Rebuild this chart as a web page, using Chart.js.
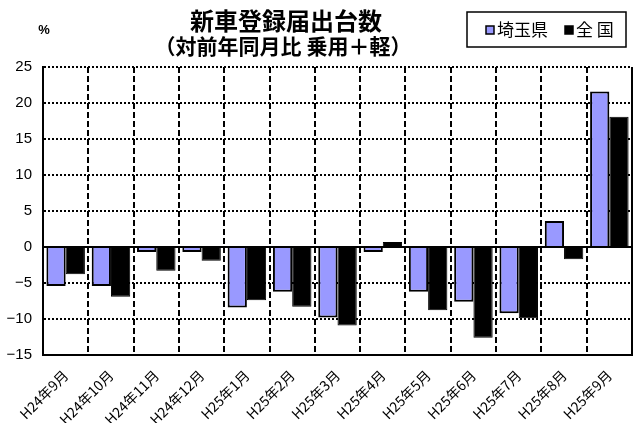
<!DOCTYPE html>
<html>
<head>
<meta charset="utf-8">
<script src="https://cdn.jsdelivr.net/npm/chart.js@4/dist/chart.umd.min.js"></script>
<style>
  html, body { margin: 0; padding: 0; background: #fff; }
  canvas { display: block; }
</style>
</head>
<body>
<canvas id="chart" width="636" height="423"></canvas>
<script>
// 新車登録届出台数 対前年同月比（%）
const months = [
  "H24年9月", "H24年10月", "H24年11月", "H24年12月", "H25年1月", "H25年2月",
  "H25年3月", "H25年4月", "H25年5月", "H25年6月", "H25年7月", "H25年8月", "H25年9月"
];
const saitama = [-5.4, -5.4, -0.7, -0.7, -8.4, -6.2, -9.8, -0.7, -6.2, -7.6, -9.2, 3.6, 21.6];
const zenkoku = [-3.8, -6.9, -3.3, -1.9, -7.4, -8.3, -10.9, 0.7, -8.8, -12.6, -9.9, -1.7, 18.1];

const titleText = "新車登録届出台数";
const subtitleText = "（対前年同月比 乗用＋軽）";
const unitText = "%";

const JP = '"Noto Sans CJK JP", sans-serif';

// title, unit, legend box, zero line and frame
const decorations = {
  id: "decorations",
  afterDatasetsDraw(chart) {
    const { ctx, chartArea: a, scales: { y } } = chart;
    ctx.save();
    ctx.strokeStyle = "#000";
    ctx.lineWidth = 2;
    ctx.setLineDash([]);
    const y0 = Math.round(y.getPixelForValue(0));
    ctx.beginPath();
    ctx.moveTo(a.left, y0);
    ctx.lineTo(a.right, y0);
    ctx.moveTo(a.right, a.top);
    ctx.lineTo(a.right, a.bottom);
    ctx.moveTo(a.left, a.bottom);
    ctx.lineTo(a.right, a.bottom);
    ctx.stroke();
    ctx.restore();
  },
  afterDraw(chart) {
    const { ctx } = chart;
    ctx.save();
    ctx.fillStyle = "#000";
    ctx.textAlign = "center";
    ctx.textBaseline = "middle";
    ctx.font = "bold 24px " + JP;
    ctx.fillText(titleText, 286, 21);
    ctx.font = "bold 21px " + JP;
    ctx.fillText(subtitleText, 283, 46);

    ctx.font = "bold 13px 'Liberation Sans', sans-serif";
    ctx.fillText(unitText, 44, 30);

    // legend
    ctx.strokeStyle = "#000";
    ctx.lineWidth = 1.5;
    ctx.strokeRect(467, 12, 159, 35);
    ctx.textAlign = "left";
    ctx.font = "17px " + JP;
    const ds = chart.data.datasets;
    const xs = [486, 565];
    ds.forEach((d, i) => {
      ctx.fillStyle = d.backgroundColor;
      ctx.fillRect(xs[i], 26, 8, 8);
      ctx.lineWidth = 1.5;
      ctx.strokeRect(xs[i], 26, 8, 8);
      ctx.fillStyle = "#000";
      ctx.fillText(d.label, xs[i] + 11, 30);
    });
    ctx.restore();
  }
};

new Chart(document.getElementById("chart"), {
  type: "bar",
  data: {
    labels: months,
    datasets: [
      {
        label: "埼玉県",
        data: saitama,
        backgroundColor: "#9999FF",
        borderColor: "#000",
        borderWidth: 2
      },
      {
        label: "全 国",
        data: zenkoku,
        backgroundColor: "#000",
        borderColor: "#000",
        borderWidth: 1
      }
    ]
  },
  options: {
    responsive: false,
    animation: false,
    layout: { padding: { top: 67, right: 4, left: 0, bottom: 0 } },
    datasets: { bar: { categoryPercentage: 0.85, barPercentage: 1 } },
    plugins: {
      legend: { display: false },
      title: { display: false },
      tooltip: { enabled: false }
    },
    scales: {
      x: {
        grid: { color: "#000", lineWidth: 2, drawTicks: false, offset: true },
        border: { display: true, color: "#000", width: 2, dash: [6, 3] },
        ticks: {
          color: "#000",
          font: { family: JP, size: 14 },
          minRotation: 45,
          maxRotation: 45,
          autoSkip: false,
          padding: 12
        },
        afterFit(s) { s.height = 68; }
      },
      y: {
        min: -15,
        max: 25,
        grid: { color: "#000", lineWidth: 2, drawTicks: false },
        border: { display: true, color: "#000", width: 2, dash: [2, 2] },
        ticks: {
          stepSize: 5,
          color: "#000",
          padding: 11,
          font: { family: "'Liberation Sans', sans-serif", size: 15 },
          callback: v => String(v).replace("-", "−")
        },
        afterFit(s) { s.width = 43; }
      }
    }
  },
  plugins: [decorations]
});
</script>
</body>
</html>
